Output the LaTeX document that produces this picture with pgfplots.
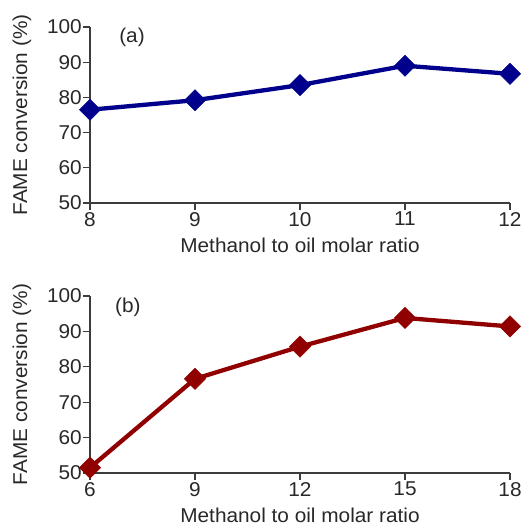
\documentclass[border=0pt]{standalone}
\usepackage{fontspec}
\setmainfont{Liberation Sans}[FakeStretch=1.04]
\usepackage{pgfplots}
\pgfplotsset{compat=1.18}
\definecolor{navyb}{RGB}{0,0,140}
\definecolor{darkr}{RGB}{145,0,0}
\definecolor{txt}{RGB}{40,40,40}
\definecolor{axc}{RGB}{60,60,60}
\pgfplotsset{
  myax/.style={
    scale only axis,
    width=420pt,
    axis lines=left,
    axis line style={-, axc, line width=1.2pt},
    tick style={axc, line width=1.2pt},
    tick align=outside,
    major tick length=7pt,
    ymin=50, ymax=100,
    ytick={50,60,...,100},
    clip=false,
    /pgf/number format/assume math mode=true,
    tick label style={font=\fontsize{20}{24}\selectfont, text=txt},
    label style={font=\fontsize{20}{24}\selectfont, text=txt},
    yticklabel style={inner sep=1pt},
    xticklabel style={inner sep=2pt},
    xlabel={Methanol to oil molar ratio},
    ylabel={FAME conversion (\%)},
    x label style={at={(axis description cs:0.5,-0.24)}, anchor=center},
    y label style={at={(axis description cs:-0.162,0.5)}, anchor=center},
  },
  myline/.style={line width=4.3pt, mark=square*, mark size=7.5pt,
    mark options={rotate=45, solid, line width=0.5pt}},
}
\begin{document}
\begin{tikzpicture}
\path[use as bounding box] (0,0) rectangle (524pt,527pt);
\begin{axis}[myax, at={(90pt,324pt)}, anchor=south west, height=176pt,
  xmin=8, xmax=12, xtick={8,9,10,11,12}]
\addplot[myline, color=navyb] coordinates {(8,76.5) (9,79.2) (10,83.5) (11,89.0) (12,86.7)};
\node[font=\fontsize{20}{24}\selectfont, text=txt] at (axis description cs:0.1,0.94) {(a)};
\end{axis}
\begin{axis}[myax, at={(90pt,54pt)}, anchor=south west, height=177pt,
  xmin=6, xmax=18, xtick={6,9,12,15,18}]
\addplot[myline, color=darkr] coordinates {(6,51.5) (9,76.6) (12,85.7) (15,93.8) (18,91.4)};
\node[font=\fontsize{20}{24}\selectfont, text=txt] at (axis description cs:0.09,0.935) {(b)};
\end{axis}
\end{tikzpicture}
\end{document}
